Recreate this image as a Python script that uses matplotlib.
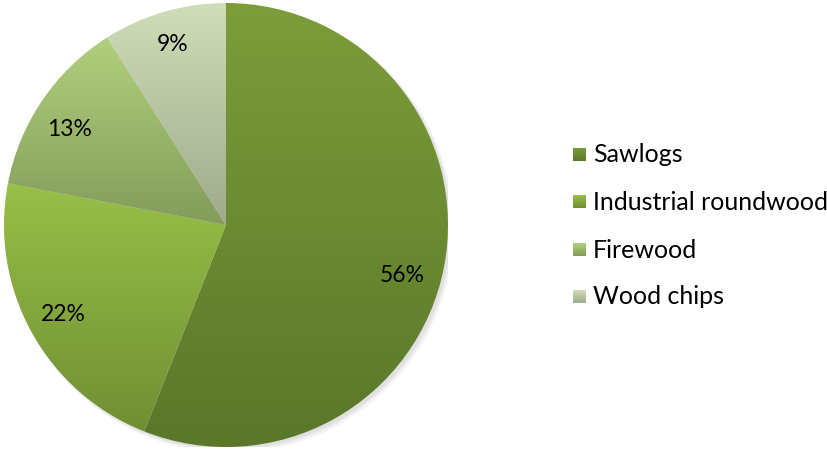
import numpy as np
import matplotlib.pyplot as plt
from matplotlib.colors import to_rgb
from matplotlib.patches import Circle

plt.rcParams['font.family'] = ['Lato', 'DejaVu Sans']

labels = ["Sawlogs", "Industrial roundwood", "Firewood", "Wood chips"]
shares = [56, 22, 13, 9]
# top / bottom colours of each slice's vertical gradient
tops = ["#7c9d3a", "#98c048", "#b1d07d", "#d0ddb8"]
bottoms = ["#5a772a", "#708f33", "#839c5a", "#9eab8c"]

W, H = 828, 453
fig = plt.figure(figsize=(W / 100, H / 100), dpi=100)

cx, cy, r = 226, 225, 222
ax = fig.add_axes([(cx - r) / W, (H - cy - r) / H, 2 * r / W, 2 * r / H])
ax.set_aspect("equal")
ax.axis("off")


def vgrad(c1, c2, n=256):
    a = np.array(to_rgb(c1))
    b = np.array(to_rgb(c2))
    t = np.linspace(0, 1, n)[:, None]
    return (a * (1 - t) + b * t)[:, None, :]


# soft shadow under the pie
for k, a in enumerate([0.05, 0.04, 0.03]):
    ax.add_patch(Circle((0.012 + 0.004 * k, -0.012 - 0.004 * k), 1.0 + 0.004 * k,
                        color="black", alpha=a, lw=0, zorder=0))

wedges, _, autotexts = ax.pie(shares, startangle=90, counterclock=False, radius=1,
                              autopct="%1.0f%%", pctdistance=0.83,
                              wedgeprops=dict(lw=0),
                              textprops=dict(fontsize=16.5, color="black"))

for w, c1, c2 in zip(wedges, tops, bottoms):
    verts = w.get_path().vertices
    y0, y1 = verts[:, 1].min(), verts[:, 1].max()
    im = ax.imshow(vgrad(c1, c2), extent=(-1, 1, y0, y1), origin="upper",
                   aspect="auto", zorder=1)
    im.set_clip_path(w)
    w.set_alpha(0)

# small nudges of the percentage labels (in radius units)
nudges = [(-0.022, -0.072), (-0.004, -0.004), (-0.018, -0.036), (-0.009, 0.014)]
for t, (dx, dy) in zip(autotexts, nudges):
    x, y = t.get_position()
    t.set_position((x + dx, y + dy))
    t.set_zorder(3)
ax.set_xlim(-1, 1)
ax.set_ylim(-1, 1)

# legend with gradient swatches
lg = fig.add_axes([0, 0, 1, 1])
lg.axis("off")
rows = [155, 202, 250, 297]
for y, lab, c1, c2 in zip(rows, labels, tops, bottoms):
    lg.imshow(vgrad(c1, c2), extent=(573, 586, y + 6.5, y - 6.5), origin="upper",
              aspect="auto")
    lg.text(593, y, lab, fontsize=18, va="center", ha="left")
lg.set_xlim(0, W)
lg.set_ylim(H, 0)

fig.savefig("out.png", dpi=100)
